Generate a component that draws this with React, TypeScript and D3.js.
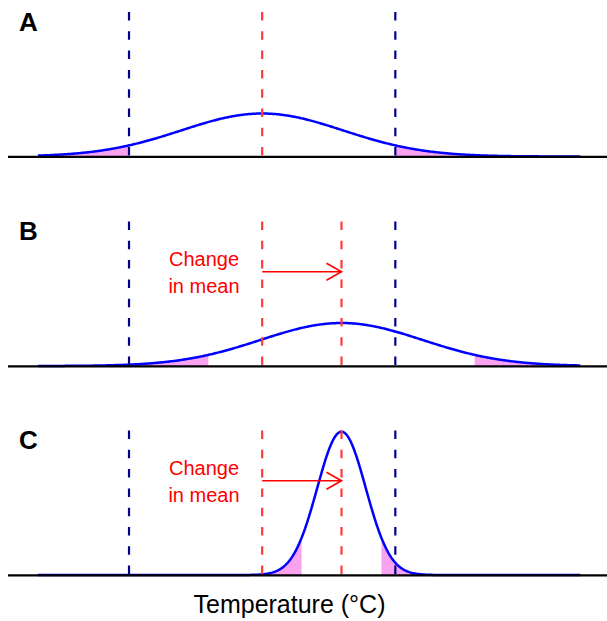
import React from "react";
import * as d3 from "d3";

// ---- data (temperature in units of the original standard deviation) ----
const panelLabels = ["A", "B", "C"];
const panelMeans = [0, 0.98, 0.98];
const panelSds = [1, 1, 0.3];
const oldMean = 0;
const extremeThresholds = [-1.645, 1.645]; // navy dashed lines (fixed)
const tailZ = 1.645; // shaded tails of each distribution
const curveExtent = [-2.77, 3.93];
const meanLinesPerPanel = [[0], [0, 0.98], [0, 0.98]];
const showArrow = [false, true, true];
const arrowLabel = ["Change", "in mean"];
const axisTitle = "Temperature (°C)";

const W = 607;
const H = 621;
const baselines = [156.5, 366, 575];
const FONT = "'Liberation Sans', Arial, Helvetica, sans-serif";

const x = d3.scaleLinear().domain([-3.14, 4.26]).range([8, 607]);

function pdf(t: number, m: number, s: number) {
  return Math.exp(-0.5 * ((t - m) / s) ** 2) / (s * Math.sqrt(2 * Math.PI));
}

function Panel({ i }: { i: number }) {
  const base = baselines[i];
  const y = d3.scaleLinear().domain([0, 1.35]).range([base, base - 145.5]);
  const m = panelMeans[i];
  const s = panelSds[i];
  const n = 600;
  const pts: [number, number][] = d3
    .range(n + 1)
    .map((k) => {
      const t = curveExtent[0] + ((curveExtent[1] - curveExtent[0]) * k) / n;
      return [t, pdf(t, m, s)];
    });
  const line = d3
    .line<[number, number]>()
    .x((d) => x(d[0]))
    .y((d) => y(d[1]));
  const area = d3
    .area<[number, number]>()
    .x((d) => x(d[0]))
    .y0(base)
    .y1((d) => y(d[1]));
  const lo = m - tailZ * s;
  const hi = m + tailZ * s;
  const leftPts = pts.filter((d) => d[0] <= lo).concat([[lo, pdf(lo, m, s)]]);
  const rightPts = ([[hi, pdf(hi, m, s)]] as [number, number][]).concat(
    pts.filter((d) => d[0] >= hi)
  );
  const top = base - 144.5;
  const dash = "8.5,10.8";
  const arrowY = base - 94.3;
  const x0 = x(oldMean);
  const x1 = x(m);
  return (
    <g>
      <path d={area(leftPts) || ""} fill="#f9a3f0" />
      <path d={area(rightPts) || ""} fill="#f9a3f0" />
      <path d={line(pts) || ""} fill="none" stroke="#0000ff" strokeWidth={2.5} />
      <line x1={8} x2={607} y1={base + 0.3} y2={base + 0.3} stroke="#000" strokeWidth={2.2} />
      {extremeThresholds.map((t, k) => (
        <line
          key={"n" + k}
          x1={x(t)}
          x2={x(t)}
          y1={top}
          y2={base}
          stroke="#000088"
          strokeWidth={2.2}
          strokeDasharray={dash}
        />
      ))}
      {meanLinesPerPanel[i].map((t, k) => (
        <line
          key={"r" + k}
          x1={x(t)}
          x2={x(t)}
          y1={top}
          y2={base}
          stroke="#ff3b3b"
          strokeWidth={2.2}
          strokeDasharray={dash}
        />
      ))}
      <text
        x={19}
        y={base - 126}
        fontFamily={FONT}
        fontWeight="bold"
        fontSize={26}
        fill="#000"
      >
        {panelLabels[i]}
      </text>
      {showArrow[i] && (
        <g>
          <text
            x={204}
            y={base - 100}
            textAnchor="middle"
            fontFamily={FONT}
            fontSize={20}
            fill="#ff0000"
          >
            {arrowLabel[0]}
          </text>
          <text
            x={204}
            y={base - 73}
            textAnchor="middle"
            fontFamily={FONT}
            fontSize={20}
            fill="#ff0000"
          >
            {arrowLabel[1]}
          </text>
          <line x1={x0} x2={x1} y1={arrowY} y2={arrowY} stroke="#ff0000" strokeWidth={1.6} />
          <polyline
            points={`${x1 - 15},${arrowY - 8.5} ${x1},${arrowY} ${x1 - 15},${arrowY + 8.5}`}
            fill="none"
            stroke="#ff0000"
            strokeWidth={1.6}
          />
        </g>
      )}
    </g>
  );
}

export default function App() {
  return (
    <svg
      width={W}
      height={H}
      style={{ position: "absolute", left: 0, top: 0, background: "#fff" }}
    >
      <rect x={0} y={0} width={W} height={H} fill="#fff" />
      {panelLabels.map((_, i) => (
        <Panel key={i} i={i} />
      ))}
      <text
        x={289.5}
        y={613}
        textAnchor="middle"
        fontFamily={FONT}
        fontSize={25}
        fill="#000"
      >
        {axisTitle}
      </text>
    </svg>
  );
}
